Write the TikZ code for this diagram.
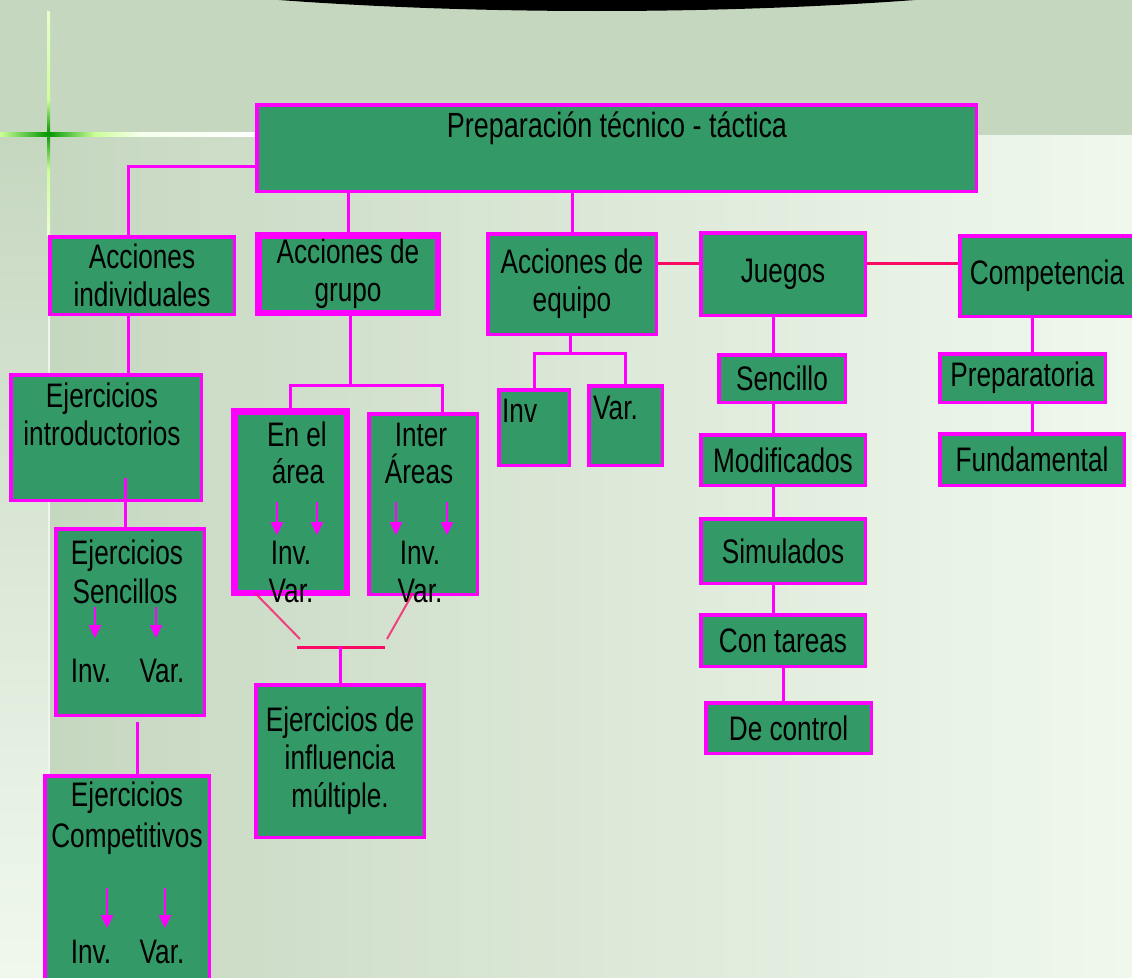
\documentclass[tikz,border=0pt]{standalone}
\usepackage{fontspec}
\setmainfont{Liberation Sans}[FakeStretch=0.77]
\usetikzlibrary{arrows.meta}

\definecolor{fondo}{RGB}{198,215,192}
\definecolor{fondoclaro}{RGB}{240,248,238}
\definecolor{verdecaja}{RGB}{51,153,102}
\definecolor{rosa}{RGB}{255,0,255}
\definecolor{rojo}{RGB}{250,10,100}
\definecolor{verdecruz}{RGB}{204,255,153}
\definecolor{verdeosc}{RGB}{0,150,0}

\tikzset{
	caja/.style={draw=rosa,fill=verdecaja,line width=3.5pt,inner sep=0pt,align=center,font=\fontsize{34}{38}\selectfont},
	cajagruesa/.style={caja,line width=6.5pt},
	texto/.style={anchor=base,inner sep=0pt,font=\fontsize{34}{38}\selectfont},
	enlace/.style={draw=rosa,line width=3pt},
	enlacerojo/.style={draw=rojo,line width=3pt},
	diagonal/.style={draw=rojo,opacity=0.75,line width=2pt},
	flecha/.style={draw=rosa,line width=2.2pt,-{Triangle[length=13pt,width=12pt]}}
}

\begin{document}
\begin{tikzpicture}[x=1pt,y=-1pt]
	\useasboundingbox (0,0) rectangle (1132,977);
	%Fondo
	\fill[fondo] (0,0) rectangle (1132,977);
	\shade[left color=fondo,right color=fondoclaro] (50,135) rectangle (1132,977);
	\shade[top color=fondo,bottom color=fondoclaro] (0,135) rectangle (48,977);
	\draw[white!70!fondo,line width=2.5pt] (49,235) -- (49,977);
	\fill[black] (597,-90) ellipse [x radius=700,y radius=101];
	%Cruz verde
	\shade[left color=verdecruz,right color=verdeosc] (0,132) rectangle (48,136);
	\shade[left color=verdeosc,right color=verdecruz] (48,132) rectangle (95,136);
	\shade[left color=verdecruz,right color=white!80!verdecruz] (95,132) rectangle (140,136);
	\shade[left color=white!80!verdecruz,right color=white] (140,132) rectangle (255,136);
	\shade[top color=white!50!verdecruz,bottom color=verdecruz] (47,11) rectangle (50,100);
	\shade[top color=verdecruz,bottom color=verdeosc] (47,100) rectangle (50,133);
	\shade[top color=verdeosc,bottom color=verdecruz] (47,133) rectangle (50,170);
	\shade[top color=verdecruz,bottom color=white!60!verdecruz] (47,170) rectangle (50,235);

	%Caja principal
	\node[caja,minimum width=719.5pt,minimum height=86.5pt] (title) at (616.5,148) {};
	\node[texto,font=\fontsize{35}{38}\selectfont] (titletext) at (617,137) {Preparación técnico - táctica};

	%Fila 1
	\node[caja,minimum width=184.5pt,minimum height=77.5pt] (ai) at (142,275.5) {Acciones\\individuales};
	\node[cajagruesa,minimum width=179.5pt,minimum height=77.5pt] (ag) at (348,274) {Acciones de\\grupo};
	\node[caja,minimum width=168.5pt,minimum height=100.5pt] (ae) at (572,284) {Acciones de\\equipo};
	\node[caja,minimum width=164.5pt,minimum height=82.5pt] (jg) at (783,274) {Juegos};
	\node[caja,minimum width=174.5pt,minimum height=80.5pt] (cp) at (1047,276) {Competencia};

	%Acciones individuales
	\node[caja,minimum width=190.5pt,minimum height=125.5pt] (ei) at (106,437.5) {};
	\node[texto] (ei1) at (102,407) {Ejercicios};
	\node[texto] (ei2) at (102,445) {introductorios};
	\node[caja,minimum width=148.5pt,minimum height=186.5pt] (es) at (130,622) {};
	\node[texto] (es1) at (127,564) {Ejercicios};
	\node[texto] (es2) at (125,603) {Sencillos};
	\node[texto] (esinv) at (91,682) {Inv.};
	\node[texto] (esvar) at (162,682) {Var.};
	\node[caja,minimum width=164.5pt,minimum height=222.5pt] (ec) at (127,887) {};
	\node[texto] (ec1) at (127,806) {Ejercicios};
	\node[texto] (ec2) at (127,847) {Competitivos};
	\node[texto] (ecinv) at (91,963) {Inv.};
	\node[texto] (ecvar) at (162,963) {Var.};

	%Acciones de grupo
	\node[cajagruesa,minimum width=112.5pt,minimum height=181.5pt] (ea) at (290.5,502) {};
	\node[texto] (ea1) at (297,446) {En el};
	\node[texto] (ea2) at (298,483) {área};
	\node[texto] (eainv) at (291,564) {Inv.};
	\node[texto] (eavar) at (291,602) {Var.};
	\node[caja,minimum width=108.5pt,minimum height=180.5pt] (ia) at (423,504) {};
	\node[texto] (ia1) at (421,446) {Inter};
	\node[texto] (ia2) at (419,483) {Áreas};
	\node[texto] (iainv) at (420,564) {Inv.};
	\node[texto] (iavar) at (420,602) {Var.};
	\node[caja,minimum width=168.5pt,minimum height=152.5pt] (em) at (340,761) {Ejercicios de\\influencia\\múltiple.};

	%Acciones de equipo
	\node[caja,minimum width=70.5pt,minimum height=75.5pt] (inv) at (534,427.5) {};
	\node[texto,anchor=base west] (invtext) at (502,422) {Inv};
	\node[caja,minimum width=73.5pt,minimum height=79.5pt] (var) at (625.5,425.5) {};
	\node[texto,anchor=base west] (vartext) at (593,419) {Var.};

	%Juegos
	\node[caja,minimum width=126.5pt,minimum height=47.5pt] (sn) at (782,378.5) {Sencillo};
	\node[caja,minimum width=164.5pt,minimum height=50.5pt] (md) at (783,460) {Modificados};
	\node[caja,minimum width=164.5pt,minimum height=64.5pt] (sm) at (783,551) {Simulados};
	\node[caja,minimum width=164.5pt,minimum height=51.5pt] (ct) at (783,640.5) {Con tareas};
	\node[caja,minimum width=165.5pt,minimum height=50.5pt] (dc) at (788.5,728) {De control};

	%Competencia
	\node[caja,minimum width=165.5pt,minimum height=48.5pt] (pr) at (1022.5,378) {Preparatoria};
	\node[caja,minimum width=184.5pt,minimum height=51.5pt] (fd) at (1032,459.5) {Fundamental};

	%Lineas desde la caja principal
	\coordinate (colA) at (128,0);
	\draw[enlace] ([yshift=-18pt]title.west) -| (colA |- ai.north);
	\draw[enlace] (title.south -| ag.north) -- (ag.north);
	\draw[enlace] (title.south -| ae.north) -- (ae.north);
	\coordinate (aeR) at ([yshift=21pt]ae.east);
	\draw[enlacerojo] (aeR) -- (aeR -| jg.west);
	\coordinate (jgR) at ([yshift=11pt]jg.east);
	\draw[enlacerojo] (jgR) -- (jgR -| cp.west);

	%Lineas acciones individuales
	\draw[enlace] (ai.south -| colA) -- (colA |- ei.north);
	\coordinate (eiIn) at (125,478);
	\draw[enlace] (eiIn) -- (eiIn |- es.north);
	\coordinate (esOut) at (137,722);
	\draw[enlace] (esOut) -- (esOut |- ec.north);

	%Lineas acciones de grupo
	\coordinate (agJ) at (350,385);
	\coordinate (iaJ) at (442,385);
	\draw[enlace] (ag.south -| agJ) -- (agJ);
	\draw[enlace] (ea.north) |- (iaJ) -- (iaJ |- ia.north);
	\coordinate (dA) at (255,593);
	\coordinate (dB) at (300,639);
	\coordinate (dC) at (413,593);
	\coordinate (dD) at (387,639);
	\coordinate (jL) at (297,647);
	\coordinate (jR) at (385,647);
	\draw[diagonal] (dA) -- (dB);
	\draw[diagonal] (dC) -- (dD);
	\draw[enlacerojo] (jL) -- (jR);
	\draw[enlace] (em.north) -- (em.north |- jL);

	%Lineas acciones de equipo
	\coordinate (aeJ) at (570,353);
	\draw[enlace] (ae.south -| aeJ) -- (aeJ);
	\draw[enlace] (inv.north) |- (var.north |- aeJ) -- (var.north);

	%Lineas juegos
	\coordinate (colJ) at (773,0);
	\draw[enlace] (jg.south -| colJ) -- (colJ |- sn.north);
	\draw[enlace] (sn.south -| colJ) -- (colJ |- md.north);
	\draw[enlace] (md.south -| colJ) -- (colJ |- sm.north);
	\draw[enlace] (sm.south -| colJ) -- (colJ |- ct.north);
	\draw[enlace] (ct.south) -- (ct.south |- dc.north);

	%Lineas competencia
	\coordinate (colC) at (1032,0);
	\draw[enlace] (cp.south -| colC) -- (colC |- pr.north);
	\draw[enlace] (pr.south -| colC) -- (colC |- fd.north);

	%Flechas
	\coordinate (esF1) at (95,607);
	\coordinate (esF2) at (156,607);
	\coordinate (ecF1) at (107,888);
	\coordinate (ecF2) at (165,888);
	\coordinate (eaF1) at (277,502);
	\coordinate (eaF2) at (317,502);
	\coordinate (iaF1) at (396,502);
	\coordinate (iaF2) at (447,502);
	\draw[flecha] (esF1) -- ++(0,31);
	\draw[flecha] (esF2) -- ++(0,31);
	\draw[flecha] (ecF1) -- ++(0,40);
	\draw[flecha] (ecF2) -- ++(0,40);
	\draw[flecha] (eaF1) -- ++(0,33);
	\draw[flecha] (eaF2) -- ++(0,33);
	\draw[flecha] (iaF1) -- ++(0,33);
	\draw[flecha] (iaF2) -- ++(0,33);
\end{tikzpicture}
\end{document}
